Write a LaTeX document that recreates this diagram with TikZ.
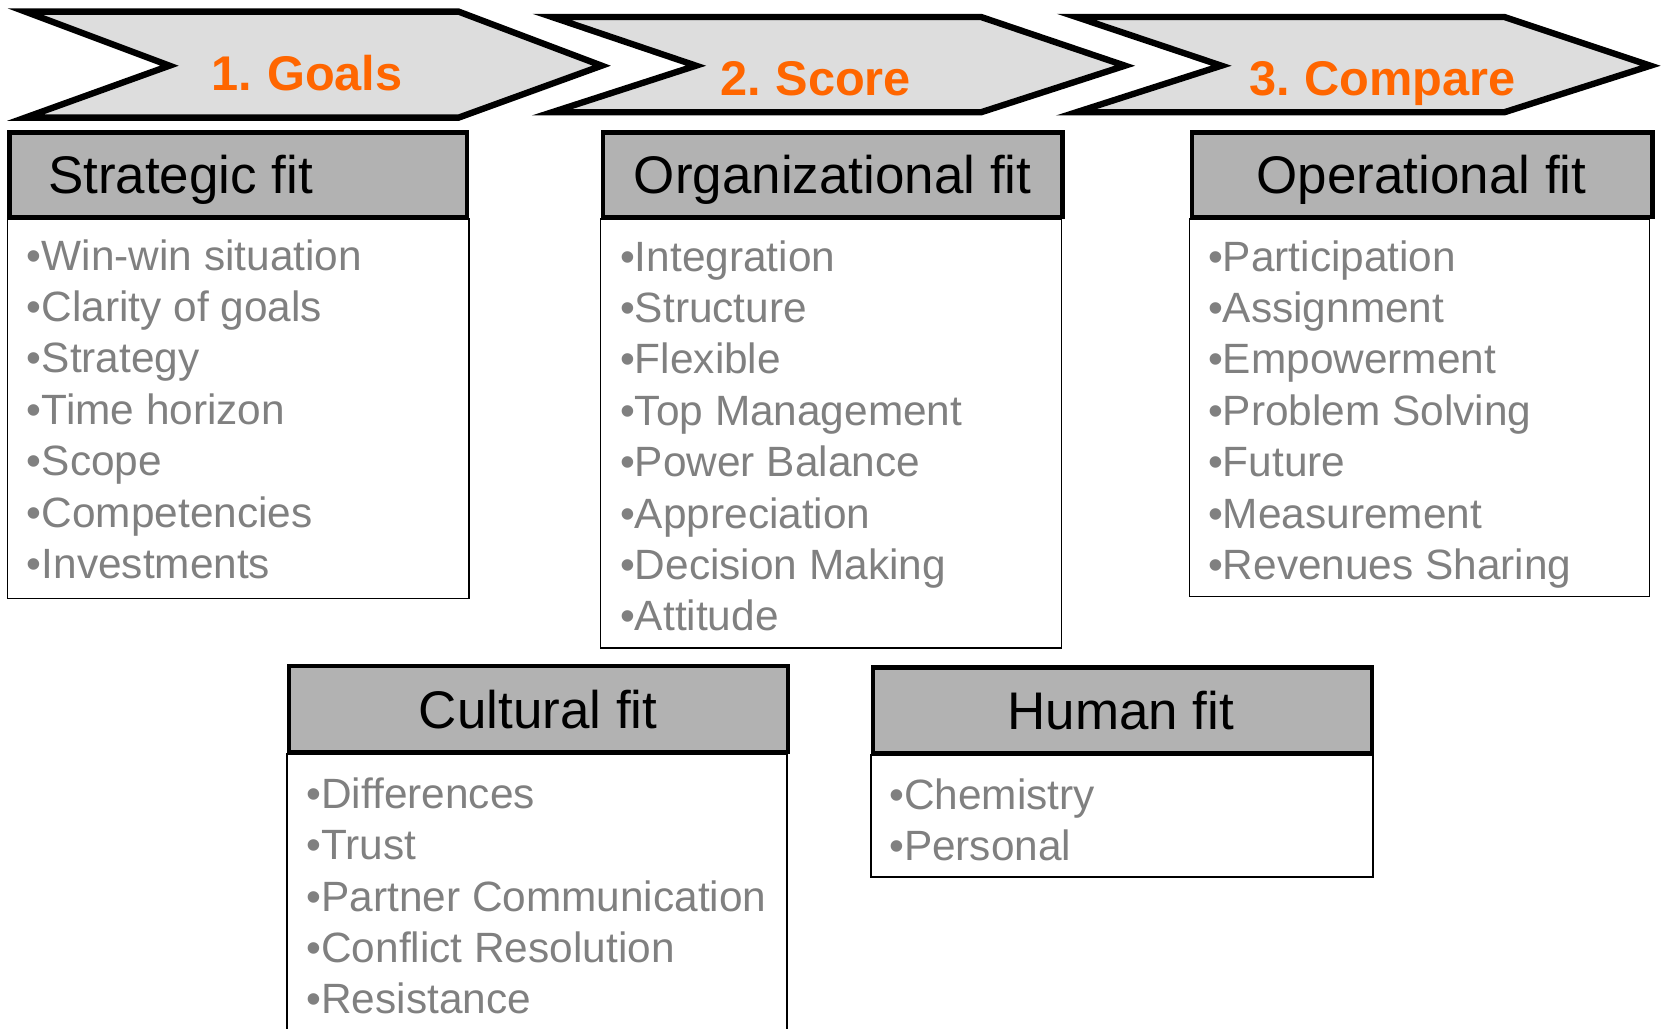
\documentclass[tikz,border=0pt]{standalone}
\usepackage{fontspec}
\setmainfont{Liberation Sans}
\definecolor{stageor}{HTML}{FF6600}
\definecolor{arrowfill}{HTML}{DDDDDD}
\definecolor{headfill}{HTML}{B2B2B2}
\definecolor{itemgray}{HTML}{808080}
\begin{document}
\begin{tikzpicture}[x=0.5pt,y=-0.5pt,
  chev/.style={draw=black,line width=3pt,miter limit=10,line join=miter,fill=arrowfill},
  stagelbl/.style={anchor=base,inner sep=0pt,text=stageor,font=\fontsize{23}{27}\selectfont\bfseries},
  headbox/.style={draw=black,line width=2pt,fill=headfill},
  bodybox/.style={draw=black,line width=0.8pt,fill=white},
  title/.style={inner sep=0pt,text=black,font=\fontsize{25}{30}\selectfont},
  item/.style={anchor=base west,inner sep=0pt,text=itemgray,font=\fontsize{20}{24}\selectfont}]
\useasboundingbox (0,0) rectangle (1568,971);
% stage chevrons
\draw[chev] (24,11) -- (433,11) -- (568,62) -- (433,111) -- (24,111) -- (160,62) -- cycle;
\draw[chev] (521,16) -- (926,16) -- (1062,62) -- (926,106) -- (521,106) -- (657,62) -- cycle;
\draw[chev] (1016,16) -- (1420,16) -- (1558,62) -- (1420,106) -- (1016,106) -- (1153,62) -- cycle;
\node[stagelbl] (g1) at (290,85) {1.\hspace{0.3em}Goals};
\node[stagelbl] (g2) at (770,90) {2.\hspace{0.3em}Score};
\node[stagelbl] (g3) at (1305,90) {3.\hspace{0.3em}Compare};
% Strategic fit
\draw[bodybox] (7,207) rectangle (443,565);
\draw[headbox] (9,125) rectangle (441,205);
\node[title,anchor=base west] (t1) at (45,183) {Strategic fit};
\foreach \t [count=\i] in {Win-win situation,Clarity of goals,Strategy,Time horizon,Scope,Competencies,Investments}
  \node[item] (s\i) at (25,{255+48.5*(\i-1)}) {•\t};
% Organizational fit
\draw[bodybox] (567,207) rectangle (1002,612);
\draw[headbox] (569,125) rectangle (1003,205);
\node[title,anchor=base] (t2) at (786,183) {Organizational fit};
\foreach \t [count=\i] in {Integration,Structure,Flexible,Top Management,Power Balance,Appreciation,Decision Making,Attitude}
  \node[item] (o\i) at (585,{256+48.5*(\i-1)}) {•\t};
% Operational fit
\draw[bodybox] (1123,207) rectangle (1557,563);
\draw[headbox] (1125,125) rectangle (1560,205);
\node[title,anchor=base] (t3) at (1342,183) {Operational fit};
\foreach \t [count=\i] in {Participation,Assignment,Empowerment,Problem Solving,Future,Measurement,Revenues Sharing}
  \node[item] (p\i) at (1140,{256+48.5*(\i-1)}) {•\t};
% Cultural fit
\draw[bodybox] (271,712) rectangle (743,990);
\draw[headbox] (273,629) rectangle (744,710);
\node[title,anchor=base] (t4) at (508,688) {Cultural fit};
\foreach \t [count=\i] in {Differences,Trust,Partner Communication,Conflict Resolution,Resistance}
  \node[item] (c\i) at (289,{763+48.5*(\i-1)}) {•\t};
% Human fit
\draw[bodybox] (822,713) rectangle (1296,828);
\draw[headbox] (824,630) rectangle (1295,711);
\node[title,anchor=base] (t5) at (1058,689) {Human fit};
\foreach \t [count=\i] in {Chemistry,Personal}
  \node[item] (h\i) at (839,{764+48.5*(\i-1)}) {•\t};
\end{tikzpicture}
\end{document}
